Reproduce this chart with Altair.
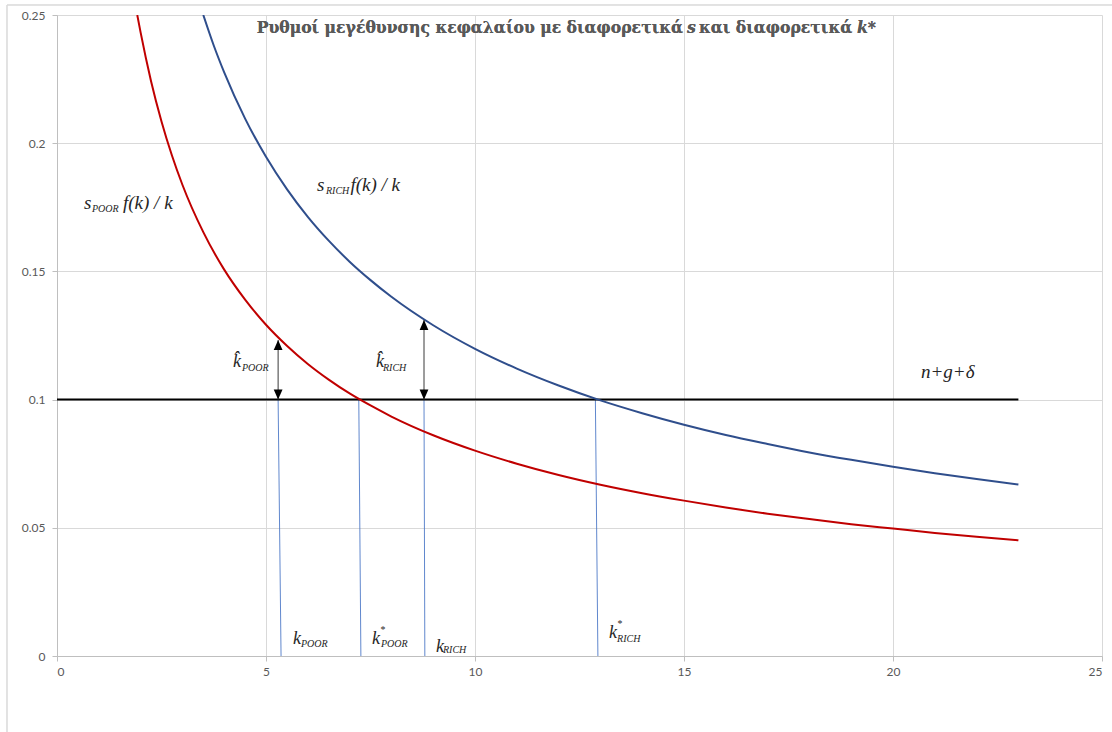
import altair as alt
import pandas as pd

# ---- data ----
k_poor = [1.92, 2.0, 2.25, 2.5, 2.75, 3.0, 3.5, 4.0, 4.5, 5.0, 5.5, 6.0, 6.5, 7.0, 7.5,
          8, 9, 10, 11, 12, 13, 14, 15, 16, 17, 18, 19, 20, 21, 22, 23]
y_poor = [0.250, 0.2432, 0.2242, 0.2085, 0.1952, 0.1838, 0.1653, 0.1507, 0.1390, 0.1292,
          0.1210, 0.1139, 0.1078, 0.1024, 0.0977, 0.0934, 0.0861, 0.0801, 0.0750, 0.0706,
          0.0668, 0.0635, 0.0606, 0.0579, 0.0555, 0.0534, 0.0514, 0.0497, 0.0480, 0.0465, 0.0451]
k_rich = [3.5, 3.75, 4.0, 4.5, 5, 5.5, 6, 6.5, 7, 7.5, 8, 9, 10, 11, 12, 13, 14, 15, 16,
          17, 18, 19, 20, 21, 22, 23]
y_rich = [0.250, 0.2381, 0.2276, 0.2096, 0.1947, 0.1821, 0.1713, 0.1620, 0.1538, 0.1466,
          0.1401, 0.1290, 0.1198, 0.1121, 0.1055, 0.0997, 0.0947, 0.0902, 0.0862, 0.0827,
          0.0794, 0.0765, 0.0738, 0.0713, 0.0690, 0.0669]

depr_x = [0, 23]
depr_y = [0.1, 0.1]

# vertical guide lines (top x, bottom x)
guide_top_x = [5.29, 7.22, 8.78, 12.88]
guide_bot_x = [5.36, 7.27, 8.80, 12.94]
guide_top_y = [0.1, 0.1, 0.1, 0.1]

# double arrows: x, low y, high y
arrow_x = [5.29, 8.78]
arrow_lo = [0.1, 0.1]
arrow_hi = [0.1232, 0.131]

x_ticks = [0, 5, 10, 15, 20, 25]
y_ticks = [0, 0.05, 0.1, 0.15, 0.2, 0.25]

# annotation pieces: text, x, y, font size
ann_text = ["s", "POOR", "f(k) / k",
            "s", "RICH", "f(k) / k",
            "k\u0302", "POOR",
            "k\u0302", "RICH",
            "k", "POOR",
            "k", "*", "POOR",
            "k", "RICH",
            "k", "*", "RICH",
            "n+g+δ"]
ann_x = [0.646, 0.837, 1.579,
         6.220, 6.435, 7.02,
         4.211, 4.426,
         7.632, 7.799,
         5.646, 5.837,
         7.536, 7.73, 7.75,
         9.067, 9.234,
         13.206, 13.40, 13.40,
         20.67]
ann_y = [0.1743, 0.1732, 0.1743,
         0.1814, 0.1802, 0.1814,
         0.1127, 0.1112,
         0.1127, 0.1112,
         0.00468, 0.00351,
         0.00468, 0.0088, 0.00351,
         0.00156, 0.00117,
         0.00702, 0.0112, 0.00546,
         0.1084]
ann_size = [19, 10, 19,
            19, 10, 19,
            18, 10,
            18, 10,
            18, 10,
            18, 10, 10,
            18, 10,
            18, 10, 10,
            19]

title_parts = ["Ρυθμοί μεγέθυνσης κεφαλαίου με διαφορετικά", "s", "και διαφορετικά", "k*"]

# ---- tables ----
curves = pd.DataFrame({"k": k_poor + k_rich,
                       "y": y_poor + y_rich,
                       "series": ["poor"] * len(k_poor) + ["rich"] * len(k_rich)})
depr = pd.DataFrame({"k": depr_x, "y": depr_y})
guides = pd.DataFrame({"x1": guide_top_x, "x2": guide_bot_x, "y1": guide_top_y,
                       "y2": [0] * len(guide_top_x)})
arrows = pd.DataFrame({"x": arrow_x, "lo": arrow_lo, "hi": arrow_hi})
ann = pd.DataFrame({"t": ann_text, "x": ann_x, "y": ann_y, "fs": ann_size})

xs = alt.Scale(domain=[0, 25], nice=False, zero=False)
ys = alt.Scale(domain=[0, 0.25], nice=False, zero=False)

x_axis = alt.Axis(values=x_ticks, grid=True, gridColor="#d9d9d9", domainColor="#bfbfbf",
                  tickColor="#bfbfbf", tickSize=5, labelColor="#595959", labelFont="Lato",
                  labelFontSize=12, labelPadding=5, title=None)
y_axis = alt.Axis(values=y_ticks, format="~g", grid=True, gridColor="#d9d9d9",
                  domainColor="#bfbfbf", tickColor="#bfbfbf", tickSize=5,
                  labelColor="#595959", labelFont="Lato", labelFontSize=12,
                  labelPadding=7, title=None)

base_axes = alt.Chart(depr).mark_point(opacity=0).encode(
    x=alt.X("k:Q", scale=xs, axis=x_axis),
    y=alt.Y("y:Q", scale=ys, axis=y_axis),
)

curve_layer = alt.Chart(curves).mark_line(strokeWidth=2, interpolate="monotone", clip=True).encode(
    x=alt.X("k:Q", scale=xs),
    y=alt.Y("y:Q", scale=ys),
    color=alt.Color("series:N", scale=alt.Scale(domain=["poor", "rich"],
                                                range=["#C00000", "#2F4E8C"]), legend=None),
    detail="series:N",
)

depr_layer = alt.Chart(depr).mark_line(color="#000000", strokeWidth=2).encode(
    x=alt.X("k:Q", scale=xs), y=alt.Y("y:Q", scale=ys))

guide_layer = alt.Chart(guides).mark_rule(color="#4472C4", strokeWidth=1, opacity=0.85).encode(
    x=alt.X("x1:Q", scale=xs), x2="x2:Q", y=alt.Y("y1:Q", scale=ys), y2="y2:Q")

shaft_layer = alt.Chart(arrows).mark_rule(color="#3a3a3a", strokeWidth=1).encode(
    x=alt.X("x:Q", scale=xs), y=alt.Y("lo:Q", scale=ys), y2="hi:Q")

up_head = alt.Chart(arrows).mark_point(
    shape="M0,0 L-0.55,1.25 L0.55,1.25 Z", filled=True, color="#000000", size=256, opacity=1
).encode(x=alt.X("x:Q", scale=xs), y=alt.Y("hi:Q", scale=ys))

down_head = alt.Chart(arrows).mark_point(
    shape="M0,0 L-0.55,-1.25 L0.55,-1.25 Z", filled=True, color="#000000", size=256, opacity=1
).encode(x=alt.X("x:Q", scale=xs), y=alt.Y("lo:Q", scale=ys))

ann_layer = alt.Chart(ann).mark_text(
    align="left", baseline="alphabetic", font="Liberation Serif", fontStyle="italic",
    color="#262626"
).encode(
    x=alt.X("x:Q", scale=xs), y=alt.Y("y:Q", scale=ys), text="t:N",
    size=alt.Size("fs:Q", scale=None, legend=None),
)

tstyle = dict(font="DejaVu Serif Condensed", fontSize=17.4, fontWeight="bold", color="#595959",
              baseline="alphabetic")
t1 = alt.Chart(depr).mark_text(align="right", **tstyle).encode(
    x=alt.value(626), y=alt.value(18), text=alt.value(title_parts[0]))
t2 = alt.Chart(depr).mark_text(align="left", fontStyle="italic", **tstyle).encode(
    x=alt.value(630), y=alt.value(18), text=alt.value(title_parts[1]))
t3 = alt.Chart(depr).mark_text(align="left", **tstyle).encode(
    x=alt.value(642), y=alt.value(18), text=alt.value(title_parts[2]))
t4 = alt.Chart(depr).mark_text(align="right", fontStyle="italic", **tstyle).encode(
    x=alt.value(819), y=alt.value(18), text=alt.value(title_parts[3]))

frame = alt.Chart(depr).mark_rect(fill=None, stroke="#d9d9d9", strokeWidth=1, clip=False).encode(
    x=alt.value(-50), x2=alt.value(1060), y=alt.value(-10), y2=alt.value(722))

chart = alt.layer(
    frame, base_axes, guide_layer, depr_layer, curve_layer, shaft_layer, up_head, down_head,
    ann_layer, t1, t2, t3, t4
).properties(
    width=1045, height=641,
    padding={"left": 57, "top": 15, "right": 10, "bottom": 76},
    autosize=alt.AutoSizeParams(type="none"),
    background="#ffffff",
).configure_view(stroke=None)

chart.save("out.html", embed_options={"renderer": "svg", "actions": False})
